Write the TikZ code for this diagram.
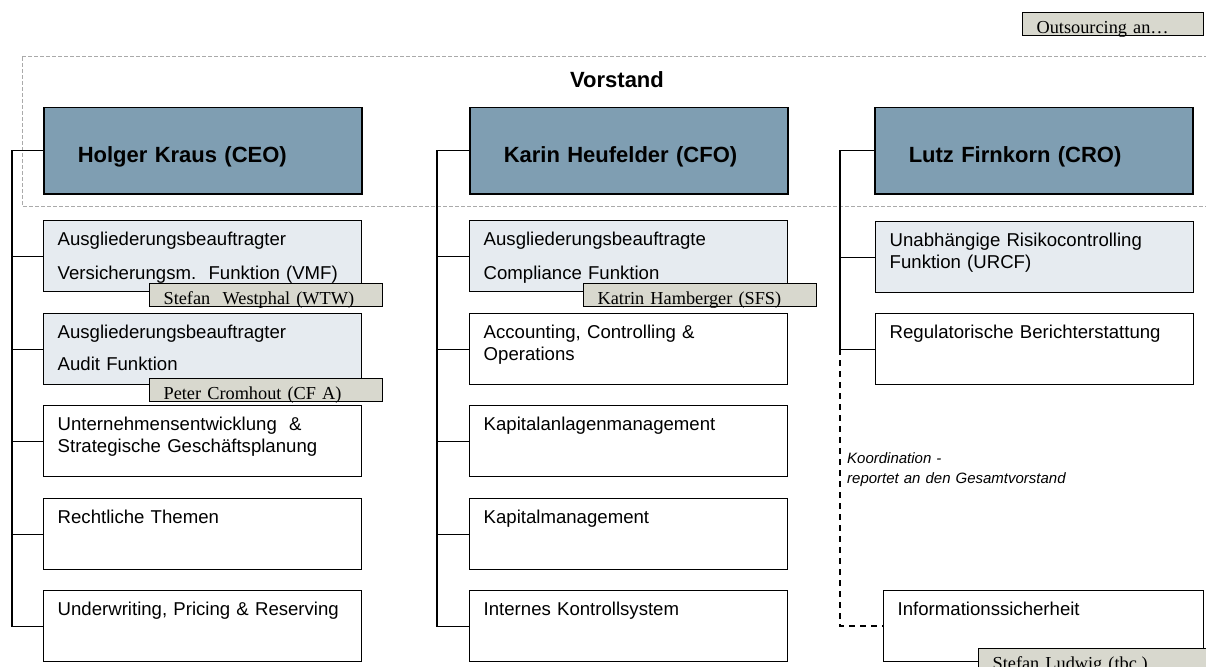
\documentclass[tikz,border=0pt]{standalone}
\usepackage{fontspec}
\setmainfont{Liberation Sans}
\newfontfamily\tagfont{Liberation Serif}
\definecolor{ChiefClr}{RGB}{127,158,178}
\definecolor{UnitClr}{RGB}{230,235,240}
\definecolor{TagClr}{RGB}{216,216,206}
\definecolor{FrameClr}{RGB}{170,170,170}

\tikzset{
  chief/.style={draw=black,line width=1.5pt,fill=ChiefClr,anchor=north west,
    inner xsep=34pt,inner ysep=0pt,text width=250pt,align=left,
    text height=55pt,text depth=31pt,font=\fontsize{22}{26}\selectfont\bfseries},
  unit/.style={draw=black,line width=1.4pt,fill=white,anchor=north west,
    inner xsep=14pt,inner ysep=0pt,text width=290pt,align=left,
    text height=25pt,text depth=46pt,font=\fontsize{18.6}{22}\selectfont},
  outunit/.style={unit,fill=UnitClr},
  tagbox/.style={draw=black,line width=1.2pt,fill=TagClr,anchor=north west,
    inner xsep=14pt,inner ysep=0pt,text width=205pt,align=left,
    text height=21pt,text depth=2pt,font=\tagfont\fontsize{18.3}{20}\selectfont},
  link/.style={draw=black,line width=1.3pt},
  koord/.style={draw=black,line width=1.5pt,dash pattern=on 6pt off 5pt},
  frame/.style={draw=FrameClr,line width=1pt,dash pattern=on 4pt off 2pt},
  note/.style={anchor=north west,inner sep=0pt,text width=240pt,align=left,
    text height=11pt,font=\fontsize{15}{20}\selectfont\itshape}
}

\begin{document}
\begin{tikzpicture}[x=1pt,y=-1pt]
\useasboundingbox (0,0) rectangle (1206,666);
\clip (0,0) rectangle (1206,666);

\draw[frame] (22,57) rectangle (1240,206);
\node[anchor=base,font=\fontsize{22}{26}\selectfont\bfseries] (vst) at (617,88) {Vorstand};

\node[chief] (ceo) at (43,107) {Holger Kraus (CEO)};
\node[chief] (cfo) at (469,107) {Karin Heufelder (CFO)};
\node[chief] (cro) at (874,107) {Lutz Firnkorn (CRO)};

\node[outunit] (vmf) at (43,220) {Ausgliederungsbeauftragter\\[12pt]Versicherungsm.\ \ Funktion (VMF)};
\node[outunit] (aud) at (43,313) {Ausgliederungsbeauftragter\\[10pt]Audit Funktion};
\node[unit] (ent) at (43,405) {Unternehmensentwicklung\ \ \&\\Strategische Gesch\"aftsplanung};
\node[unit] (rec) at (43,498) {Rechtliche Themen};
\node[unit] (und) at (43,590) {Underwriting, Pricing \& Reserving};

\node[outunit] (cmp) at (469,220) {Ausgliederungsbeauftragte\\[12pt]Compliance Funktion};
\node[unit] (acc) at (469,313) {Accounting, Controlling \&\\Operations};
\node[unit] (kap) at (469,405) {Kapitalanlagenmanagement};
\node[unit] (kpm) at (469,498) {Kapitalmanagement};
\node[unit] (iks) at (469,590) {Internes Kontrollsystem};

\node[outunit] (urcf) at (875,221) {Unabh\"angige Risikocontrolling\\Funktion (URCF)};
\node[unit] (reg) at (875,313) {Regulatorische Berichterstattung};
\node[unit,text width=292pt] (info) at (883,590) {Informationssicherheit};

\node[tagbox] (wtw) at (149,283) {Stefan\ \ Westphal (WTW)};
\node[tagbox] (cfa) at (149,378) {Peter Cromhout (CF A)};
\node[tagbox] (sfs) at (583,283) {Katrin Hamberger (SFS)};
\node[tagbox] (lud) at (978,648) {Stefan Ludwig (tbc.)};
\node[tagbox,text width=153pt] (outs) at (1022,12) {Outsourcing an\dots};

\coordinate (t1) at ([xshift=-31pt]ceo.west);
\coordinate (t2) at ([xshift=-32pt]cfo.west);
\coordinate (t3) at ([xshift=-34pt]cro.west);
\coordinate (k3) at (t3 |- reg.west);

\draw[link] (ceo.west) -- (t1) |- (und.west);
\foreach \n in {vmf,aud,ent,rec} \draw[link] (t1) |- (\n.west);
\draw[link] (cfo.west) -- (t2) |- (iks.west);
\foreach \n in {cmp,acc,kap,kpm} \draw[link] (t2) |- (\n.west);
\draw[link] (cro.west) -- (t3) |- (reg.west);
\draw[link] (t3) |- (urcf.west);
\draw[koord] (k3) |- (info.west);

\node[note] (koo) at (847,452) {Koordination -\\reportet an den Gesamtvorstand};

\end{tikzpicture}
\end{document}
